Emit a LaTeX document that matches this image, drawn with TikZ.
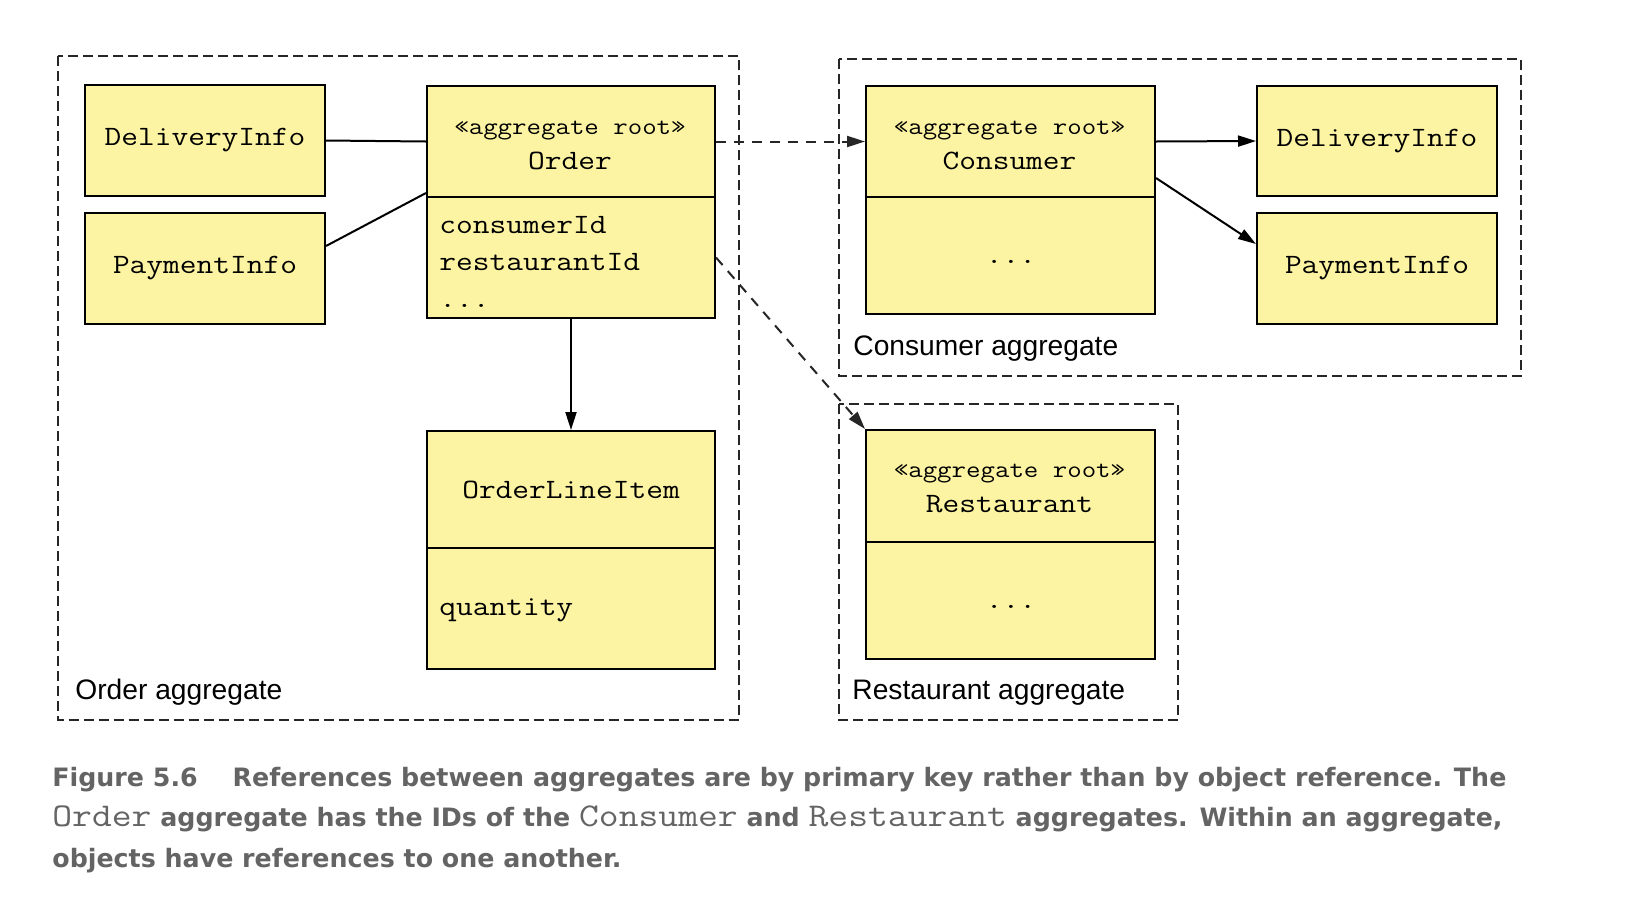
\documentclass[tikz,border=0pt]{standalone}
\usepackage{fontspec}
\setmainfont{Liberation Sans}
\setmonofont{Latin Modern Mono}[FakeStretch=1.16]
\newfontfamily\capfont{DejaVu Sans}
\usetikzlibrary{arrows.meta}
\definecolor{boxfill}{RGB}{252,244,163}
\definecolor{capgray}{RGB}{100,100,100}
\newcommand\capmn[1]{{\fontsize{16.6}{14}\selectfont\ttfamily\mdseries #1}}
\begin{document}
\begin{tikzpicture}[x=0.5pt,y=-0.5pt,
  box/.style={draw=black, line width=1pt, fill=boxfill, inner sep=0pt, anchor=north west, font=\fontsize{14}{16}\selectfont\ttfamily},
  agg/.style={draw=black!85, line width=1pt, dash pattern=on 5pt off 2.5pt},
  conn/.style={draw=black, line width=1pt},
  dconn/.style={draw=black!85, line width=1pt, dash pattern=on 5pt off 4pt},
  arrowed/.style={-{Triangle[length=9pt,width=5.5pt]}},
  mono/.style={font=\fontsize{14}{16}\selectfont\ttfamily, inner sep=0pt},
  stereo/.style={font=\fontsize{12.1}{14}\selectfont\ttfamily, inner sep=0pt, anchor=base},
  agglabel/.style={font=\fontsize{14.1}{16}\selectfont, inner sep=0pt, anchor=base west},
  capline/.style={font=\fontsize{12.65}{14}\selectfont\capfont\bfseries, text=capgray, inner sep=0pt, anchor=base west}
]
\useasboundingbox (0,0) rectangle (1634,906);
\fill[white] (0,0) rectangle (1634,906);

% aggregates
\draw[agg] (57.7,56) rectangle (739,720);
\draw[agg] (839,59) rectangle (1521,376);
\draw[agg] (839,404) rectangle (1178,720);

% Order aggregate
\node[box, minimum width=120pt, minimum height=55.5pt] (di1) at (84,84) {DeliveryInfo};
\node[box, minimum width=120pt, minimum height=55.5pt] (pi1) at (84,212) {PaymentInfo};
\node[box, minimum width=144pt, minimum height=55.5pt] (ordH) at (426,85) {};
\node[box, minimum width=144pt, minimum height=60.5pt] (ordB) at (426,196) {};
\node[stereo] (ordS) at (570,134) {«aggregate root»};
\node[mono, anchor=base] (ordN) at (570,169) {Order};
\node[mono, anchor=base west] (ordA1) at (439,233) {consumerId};
\node[mono, anchor=base west] (ordA2) at (439,270) {restaurantId};
\node[mono, anchor=base west] (ordA3) at (439,307) {...};
\node[box, minimum width=144pt, minimum height=58.5pt] (oliH) at (426,430) {OrderLineItem};
\node[box, minimum width=144pt, minimum height=60.5pt] (oliB) at (426,547) {};
\node[mono, anchor=base west] (oliA) at (439,615) {quantity};
\node[agglabel] (lblO) at (75,699) {Order aggregate};

% Consumer aggregate
\node[box, minimum width=144.5pt, minimum height=55.5pt] (conH) at (865,85) {};
\node[box, minimum width=144.5pt, minimum height=58.5pt] (conB) at (865,196) {};
\node[stereo] (conS) at (1009.5,134) {«aggregate root»};
\node[mono, anchor=base] (conN) at (1009.5,169) {Consumer};
\node[mono, anchor=base] (conA) at (1011,263) {...};
\node[box, minimum width=120pt, minimum height=55pt] (di2) at (1256,85) {DeliveryInfo};
\node[box, minimum width=120pt, minimum height=55.5pt] (pi2) at (1256,212) {PaymentInfo};
\node[agglabel] (lblC) at (853,355) {Consumer aggregate};

% Restaurant aggregate
\node[box, minimum width=144.5pt, minimum height=56pt] (resH) at (865,429) {};
\node[box, minimum width=144.5pt, minimum height=58.5pt] (resB) at (865,541) {};
\node[stereo] (resS) at (1009.5,477) {«aggregate root»};
\node[mono, anchor=base] (resN) at (1009.5,512) {Restaurant};
\node[mono, anchor=base] (resA) at (1011,608) {...};
\node[agglabel] (lblR) at (852,699) {Restaurant aggregate};

% connectors
\draw[conn] (di1.east) -- (ordH.west);
\draw[conn] ([yshift=11.25pt]pi1.east) -- ([yshift=2.5pt]ordH.south west);
\draw[conn, arrowed] (ordB.south) -- (oliH.north);
\draw[dconn, arrowed] (ordH.east) -- (conH.west);
\draw[dconn, arrowed] (ordB.east) -- (resH.north west);
\draw[conn, arrowed] (conH.east) -- (di2.west);
\draw[conn, arrowed] ([yshift=-18.25pt]conH.east) -- ([yshift=12.25pt]pi2.west);

% caption
\node[capline] (cap1) at (52,786) {Figure 5.6\hspace{17.5pt}References between aggregates are by primary key rather than by object reference. The};
\node[capline] (cap2) at (52,826) {\capmn{Order} aggregate has the IDs of the \capmn{Consumer} and \capmn{Restaurant} aggregates. Within an aggregate,};
\node[capline] (cap3) at (52,867) {objects have references to one another.};
\end{tikzpicture}
\end{document}
